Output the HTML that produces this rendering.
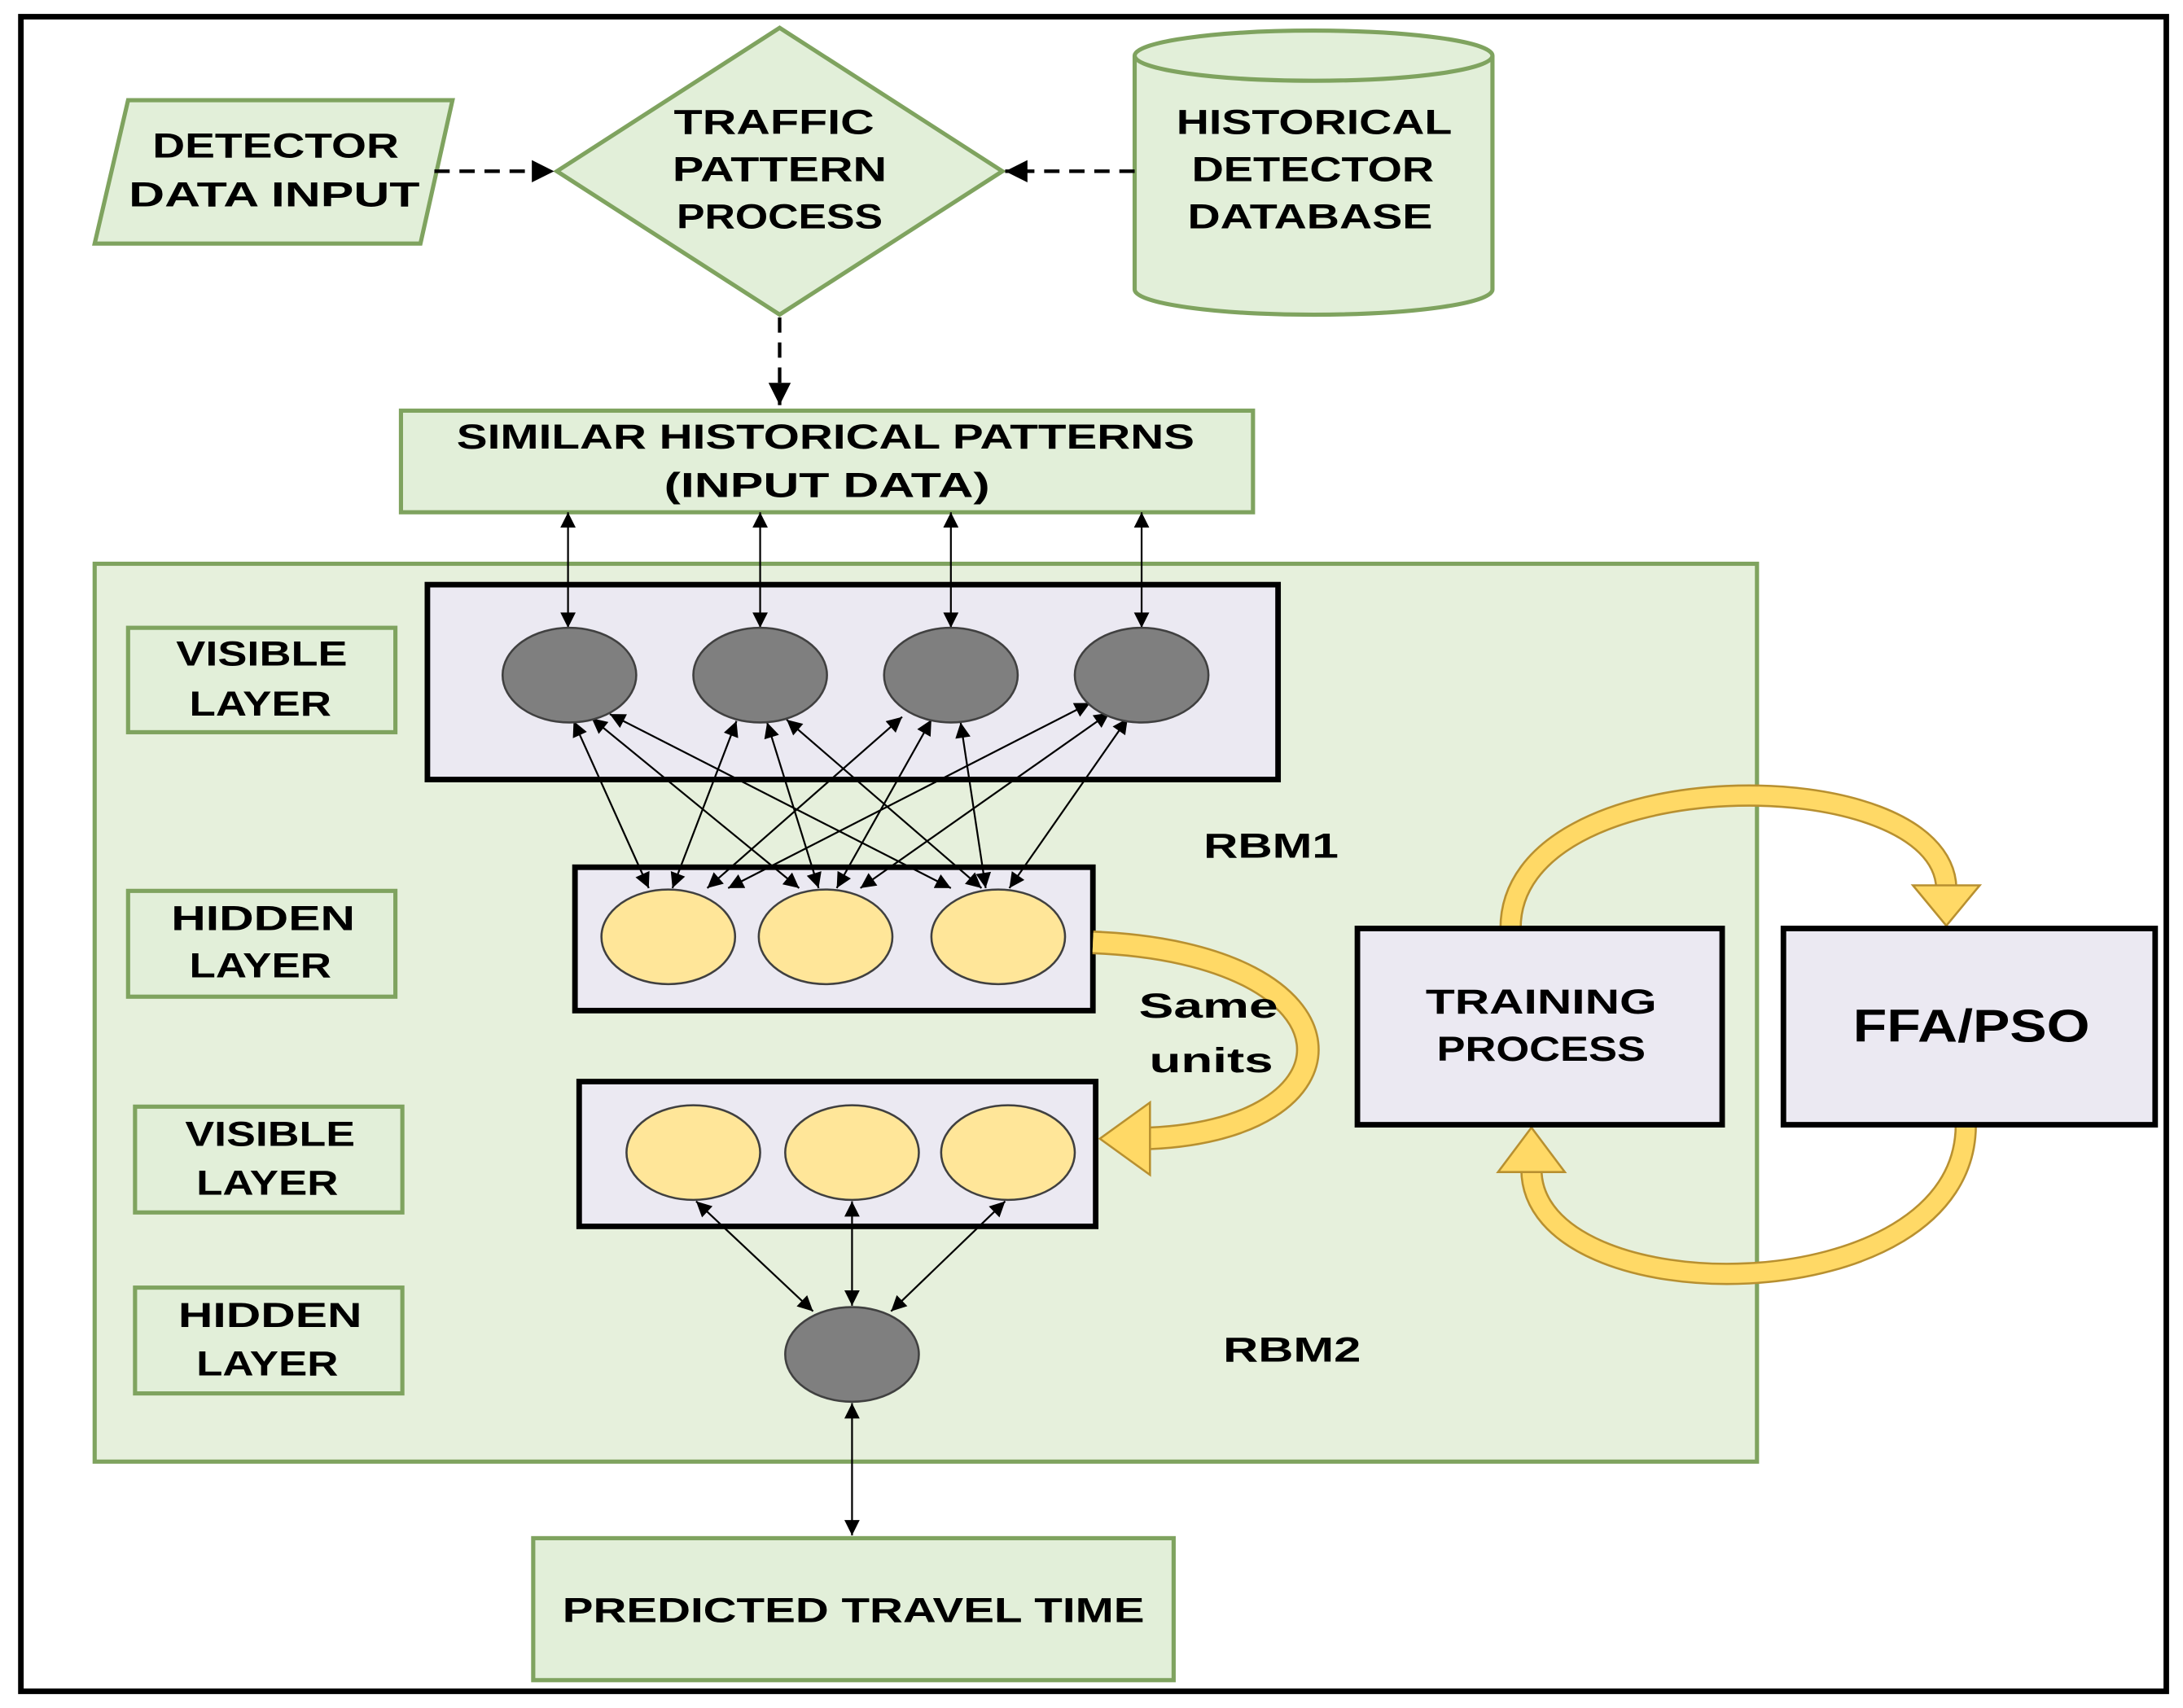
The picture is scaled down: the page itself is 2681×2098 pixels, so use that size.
<!DOCTYPE html>
<html><head><meta charset="utf-8"><style>html,body{margin:0;padding:0;background:#fff}svg{display:block}</style></head>
<body>
<svg width="2681" height="2098" viewBox="0 0 1568 1227" preserveAspectRatio="none" xmlns="http://www.w3.org/2000/svg" font-family="'Liberation Sans', sans-serif" font-weight="bold">
<defs>
<marker id="ah" viewBox="0 0 10 10" refX="10" refY="5" markerWidth="12" markerHeight="11" markerUnits="userSpaceOnUse" orient="auto-start-reverse"><path d="M0,0 L10,5 L0,10 z" fill="#000"/></marker>
<marker id="ahb" viewBox="0 0 10 10" refX="10" refY="5" markerWidth="18" markerHeight="16" markerUnits="userSpaceOnUse" orient="auto-start-reverse"><path d="M0,0 L10,5 L0,10 z" fill="#000"/></marker>
</defs>
<rect x="0" y="0" width="1568" height="1227" fill="#fff"/>
<rect x="15" y="12" width="1541" height="1203" fill="#fff" stroke="#000" stroke-width="4"/>

<polygon points="92,72 325,72 302,175 68,175" fill="#e2efd9" stroke="#7fa35f" stroke-width="3"/>
<polygon points="560,20 720,123 560,226 400,123" fill="#e2efd9" stroke="#7fa35f" stroke-width="3"/>
<path d="M815,40 L815,208 A128,18 0 0 0 1072,208 L1072,40" fill="#e2efd9" stroke="#7fa35f" stroke-width="3"/>
<ellipse cx="943.5" cy="40" rx="128.5" ry="18" fill="#e2efd9" stroke="#7fa35f" stroke-width="3"/>

<g font-size="25" text-anchor="middle" dominant-baseline="central" fill="#000">
<text x="198" y="105" textLength="177" lengthAdjust="spacingAndGlyphs">DETECTOR</text>
<text x="197" y="140" textLength="209" lengthAdjust="spacingAndGlyphs">DATA INPUT</text>
<text x="556" y="88" textLength="144" lengthAdjust="spacingAndGlyphs">TRAFFIC</text>
<text x="560" y="122" textLength="154" lengthAdjust="spacingAndGlyphs">PATTERN</text>
<text x="560" y="156" textLength="148" lengthAdjust="spacingAndGlyphs">PROCESS</text>
<text x="944" y="88" textLength="198" lengthAdjust="spacingAndGlyphs">HISTORICAL</text>
<text x="943" y="122" textLength="174" lengthAdjust="spacingAndGlyphs">DETECTOR</text>
<text x="941" y="156" textLength="176" lengthAdjust="spacingAndGlyphs">DATABASE</text>
</g>

<g stroke="#000" stroke-width="2.5" stroke-dasharray="11,7" fill="none">
<line x1="312" y1="123" x2="398" y2="123" marker-end="url(#ahb)"/>
<line x1="815" y1="123" x2="722" y2="123" marker-end="url(#ahb)"/>
<line x1="560" y1="228" x2="560" y2="291" marker-end="url(#ahb)"/>
</g>

<rect x="288" y="295" width="612" height="73" fill="#e2efd9" stroke="#7fa35f" stroke-width="3"/>
<g font-size="25" text-anchor="middle" dominant-baseline="central">
<text x="593" y="314" textLength="530" lengthAdjust="spacingAndGlyphs">SIMILAR HISTORICAL PATTERNS</text>
<text x="594" y="349" textLength="234" lengthAdjust="spacingAndGlyphs">(INPUT DATA)</text>
</g>

<rect x="68" y="405" width="1194" height="645" fill="#e6f0dc" stroke="#7fa35f" stroke-width="3"/>

<g fill="#e2efd9" stroke="#7fa35f" stroke-width="3">
<rect x="92" y="451" width="192" height="75"/>
<rect x="92" y="640" width="192" height="76"/>
<rect x="97" y="795" width="192" height="76"/>
<rect x="97" y="925" width="192" height="76"/>
</g>
<g font-size="25" text-anchor="middle" dominant-baseline="central">
<text x="188" y="470" textLength="123" lengthAdjust="spacingAndGlyphs">VISIBLE</text>
<text x="187" y="506" textLength="102" lengthAdjust="spacingAndGlyphs">LAYER</text>
<text x="189" y="660" textLength="132" lengthAdjust="spacingAndGlyphs">HIDDEN</text>
<text x="187" y="694" textLength="102" lengthAdjust="spacingAndGlyphs">LAYER</text>
<text x="194" y="815" textLength="122" lengthAdjust="spacingAndGlyphs">VISIBLE</text>
<text x="192" y="850" textLength="102" lengthAdjust="spacingAndGlyphs">LAYER</text>
<text x="194" y="945" textLength="132" lengthAdjust="spacingAndGlyphs">HIDDEN</text>
<text x="192" y="980" textLength="102" lengthAdjust="spacingAndGlyphs">LAYER</text>
<text x="913" y="608" textLength="97" lengthAdjust="spacingAndGlyphs">RBM1</text>
<text x="928" y="970" textLength="99" lengthAdjust="spacingAndGlyphs">RBM2</text>
</g>

<g fill="#ebe9f2" stroke="#000" stroke-width="4">
<rect x="307" y="420" width="611" height="140"/>
<rect x="413" y="623" width="372" height="103"/>
<rect x="416" y="777" width="371" height="104"/>
</g>

<!-- same units arrow -->
<path d="M785,677 C985,685 985,815 818,818" fill="none" stroke="#b89030" stroke-width="17"/>
<path d="M785,677 C985,685 985,815 818,818" fill="none" stroke="#ffd966" stroke-width="14"/>
<polygon points="790,818 826,792 826,844" fill="#ffd966" stroke="#b89030" stroke-width="1.5"/>
<g font-size="25" text-anchor="middle" dominant-baseline="central">
<text x="868" y="723" textLength="100" lengthAdjust="spacingAndGlyphs">Same</text>
<text x="870" y="762" textLength="89" lengthAdjust="spacingAndGlyphs">units</text>
</g>

<g stroke="#000" stroke-width="1.3" marker-start="url(#ah)" marker-end="url(#ah)">
<line x1="408" y1="368" x2="408" y2="451"/>
<line x1="546" y1="368" x2="546" y2="451"/>
<line x1="683" y1="368" x2="683" y2="451"/>
<line x1="820" y1="368" x2="820" y2="451"/>
<line x1="412" y1="518" x2="466" y2="638"/>
<line x1="425" y1="516" x2="574" y2="638"/>
<line x1="438" y1="513" x2="683" y2="638"/>
<line x1="529" y1="518" x2="483" y2="638"/>
<line x1="551" y1="519" x2="588" y2="638"/>
<line x1="565" y1="517" x2="705" y2="638"/>
<line x1="648" y1="515" x2="508" y2="638"/>
<line x1="669" y1="517" x2="601" y2="638"/>
<line x1="690" y1="519" x2="708" y2="638"/>
<line x1="783" y1="505" x2="523" y2="638"/>
<line x1="797" y1="512" x2="618" y2="638"/>
<line x1="810" y1="516" x2="725" y2="638"/>
<line x1="500" y1="863" x2="584" y2="942"/>
<line x1="612" y1="863" x2="612" y2="938"/>
<line x1="722" y1="863" x2="640" y2="942"/>
<line x1="612" y1="1008" x2="612" y2="1103"/>
</g>

<g fill="#7f7f7f" stroke="#404040" stroke-width="1.5">
<ellipse cx="409" cy="485" rx="48" ry="34"/>
<ellipse cx="546" cy="485" rx="48" ry="34"/>
<ellipse cx="683" cy="485" rx="48" ry="34"/>
<ellipse cx="820" cy="485" rx="48" ry="34"/>
<ellipse cx="612" cy="973" rx="48" ry="34"/>
</g>
<g fill="#ffe699" stroke="#404040" stroke-width="1.5">
<ellipse cx="480" cy="673" rx="48" ry="34"/>
<ellipse cx="593" cy="673" rx="48" ry="34"/>
<ellipse cx="717" cy="673" rx="48" ry="34"/>
<ellipse cx="498" cy="828" rx="48" ry="34"/>
<ellipse cx="612" cy="828" rx="48" ry="34"/>
<ellipse cx="724" cy="828" rx="48" ry="34"/>
</g>

<!-- training loop -->
<path d="M1085,667 C1085,545 1395,545 1398,638" fill="none" stroke="#b89030" stroke-width="16"/>
<path d="M1085,667 C1085,545 1395,545 1398,638" fill="none" stroke="#ffd966" stroke-width="13"/>
<polygon points="1374,636 1422,636 1398,665" fill="#ffd966" stroke="#b89030" stroke-width="1.5"/>
<path d="M1412,808 C1412,945 1100,945 1100,840" fill="none" stroke="#b89030" stroke-width="16"/>
<path d="M1412,808 C1412,945 1100,945 1100,840" fill="none" stroke="#ffd966" stroke-width="13"/>
<polygon points="1076,842 1124,842 1100,810" fill="#ffd966" stroke="#b89030" stroke-width="1.5"/>

<g fill="#ebe9f2" stroke="#000" stroke-width="4">
<rect x="975" y="667" width="262" height="141"/>
<rect x="1281" y="667" width="267" height="141"/>
</g>
<g text-anchor="middle" dominant-baseline="central">
<text x="1107" y="720" font-size="25" textLength="166" lengthAdjust="spacingAndGlyphs">TRAINING</text>
<text x="1107" y="754" font-size="25" textLength="150" lengthAdjust="spacingAndGlyphs">PROCESS</text>
<text x="1416" y="737" font-size="33" textLength="170" lengthAdjust="spacingAndGlyphs">FFA/PSO</text>
</g>

<rect x="383" y="1105" width="460" height="102" fill="#e2efd9" stroke="#7fa35f" stroke-width="3"/>
<text x="613" y="1157" font-size="25" text-anchor="middle" dominant-baseline="central" textLength="418" lengthAdjust="spacingAndGlyphs">PREDICTED TRAVEL TIME</text>
</svg>
</body></html>
